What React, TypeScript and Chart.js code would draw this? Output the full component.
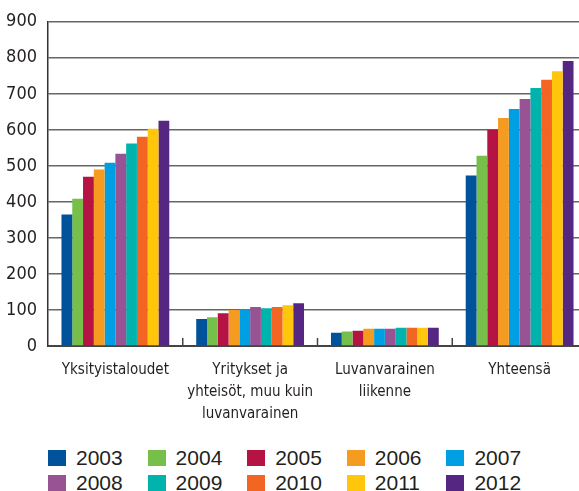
import React, { useEffect, useRef } from "react";
import { Chart, registerables } from "chart.js";

Chart.register(...registerables);

const categories: string[][] = [
  ["Yksityistaloudet"],
  ["Yritykset ja", "yhteisöt, muu kuin", "luvanvarainen"],
  ["Luvanvarainen", "liikenne"],
  ["Yhteensä"],
];

const years = ["2003", "2004", "2005", "2006", "2007", "2008", "2009", "2010", "2011", "2012"];

const colors = [
  "#00529b",
  "#76bf4a",
  "#b51343",
  "#f59b20",
  "#009fe3",
  "#985394",
  "#00b3ad",
  "#f26522",
  "#ffc60b",
  "#562683",
];

const v2003 = [365, 75, 37, 473];
const v2004 = [409, 80, 40, 528];
const v2005 = [470, 91, 42, 600];
const v2006 = [490, 100, 48, 633];
const v2007 = [509, 102, 48, 658];
const v2008 = [534, 108, 48, 686];
const v2009 = [562, 105, 51, 716];
const v2010 = [581, 108, 51, 739];
const v2011 = [603, 113, 51, 763];
const v2012 = [625, 119, 51, 791];

const series = [v2003, v2004, v2005, v2006, v2007, v2008, v2009, v2010, v2011, v2012];

const yMin = 0;
const yMax = 900;
const yStep = 100;

const NARROW = '"Liberation Sans Narrow", "Arial Narrow", "DejaVu Sans Condensed", sans-serif';
const REGULAR = '"Liberation Sans", Arial, Helvetica, sans-serif';

const catTicks = {
  id: "catTicks",
  afterDatasetsDraw(chart: any) {
    const x = chart.scales.x;
    const ctx = chart.ctx;
    const bottom = chart.chartArea.bottom;
    ctx.save();
    ctx.strokeStyle = "#444";
    ctx.lineWidth = 1.5;
    for (let i = 1; i < categories.length; i++) {
      const px = (x.getPixelForValue(i - 1) + x.getPixelForValue(i)) / 2;
      ctx.beginPath();
      ctx.moveTo(px, bottom - 8);
      ctx.lineTo(px, bottom);
      ctx.stroke();
    }
    ctx.restore();
  },
};

export default function App() {
  const ref = useRef<HTMLCanvasElement | null>(null);

  useEffect(() => {
    if (!ref.current) return;
    const chart = new Chart(ref.current, {
      type: "bar",
      data: {
        labels: categories,
        datasets: years.map((y, i) => ({
          label: y,
          data: series[i],
          backgroundColor: colors[i],
          borderWidth: 0,
          categoryPercentage: 0.8,
          barPercentage: 1.0,
        })),
      },
      options: {
        animation: false,
        responsive: false,
        devicePixelRatio: 1,
        layout: { padding: { top: 8, right: 0, bottom: 0, left: 0 } },
        plugins: {
          legend: { display: false },
          tooltip: { enabled: false },
        },
        scales: {
          x: {
            grid: { display: false },
            border: { display: true, color: "#444", width: 2 },
            ticks: {
              color: "#231f20",
              font: { family: NARROW, size: 15, lineHeight: "22px" },
              padding: 5,
              maxRotation: 0,
              autoSkip: false,
            },
            afterFit(scale: any) {
              scale.height = 84;
            },
          },
          y: {
            min: yMin,
            max: yMax,
            grid: { color: "#666", lineWidth: 1.5, drawTicks: false },
            border: { display: true, color: "#333", width: 1.5 },
            ticks: {
              stepSize: yStep,
              color: "#231f20",
              font: { family: NARROW, size: 18 },
              padding: 11,
            },
            afterFit(scale: any) {
              scale.width = 48;
            },
          },
        },
      },
      plugins: [catTicks],
    } as any);
    return () => chart.destroy();
  }, []);

  return (
    <div
      style={{
        position: "absolute",
        left: 0,
        top: 0,
        width: 579,
        height: 491,
        overflow: "hidden",
        background: "#fff",
      }}
    >
      <canvas ref={ref} width={587} height={430} style={{ display: "block" }} />
      {years.map((y, i) => {
        const col = i % 5;
        const row = Math.floor(i / 5);
        return (
          <div
            key={y}
            style={{
              position: "absolute",
              left: 48 + col * 99.6,
              top: 447 + row * 25,
              height: 22,
              display: "flex",
              alignItems: "center",
              fontFamily: REGULAR,
              fontSize: 21,
              color: "#231f20",
              whiteSpace: "nowrap",
            }}
          >
            <span
              style={{
                display: "inline-block",
                width: 18,
                height: 16,
                background: colors[i],
                marginRight: 10,
              }}
            />
            {y}
          </div>
        );
      })}
    </div>
  );
}
